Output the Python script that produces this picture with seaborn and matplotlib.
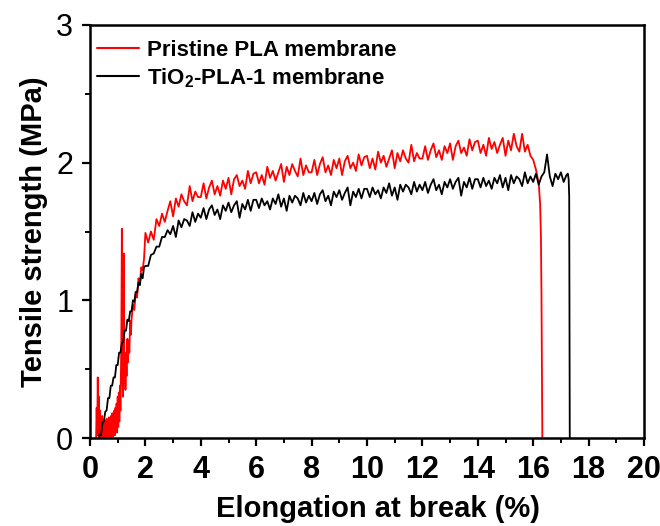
import numpy as np
import pandas as pd
import matplotlib
matplotlib.use("Agg")
import matplotlib.pyplot as plt
import seaborn as sns
from matplotlib.ticker import MultipleLocator

# ---------------- data ----------------
series_names = ["Pristine PLA membrane", "TiO$_\\mathbf{2}$-PLA-1 membrane"]
series_colors = ["#ff0000", "#000000"]

pla_strain = [0.22, 0.24, 0.26, 0.28, 0.30, 0.32, 0.34, 0.36, 0.38, 0.40, 0.42, 0.44, 0.46, 0.48,
              0.50, 0.52, 0.54, 0.56, 0.58, 0.60, 0.62, 0.64, 0.66, 0.68, 0.70, 0.72, 0.74, 0.76,
              0.78, 0.80, 0.82, 0.84, 0.86, 0.88, 0.90, 0.92, 0.94, 0.96, 0.98, 1.00, 1.02, 1.04,
              1.06, 1.08, 1.10, 1.12, 1.13, 1.15, 1.17, 1.19, 1.20, 1.22, 1.24, 1.26, 1.28, 1.30,
              1.32, 1.35, 1.37, 1.40, 1.42, 1.45, 1.47, 1.50, 1.55, 1.60, 1.65, 1.70, 1.75, 1.80,
              1.85, 1.90, 1.95,
              2.0, 2.1, 2.2, 2.3, 2.4, 2.5, 2.6, 2.7, 2.8, 2.9, 3.0, 3.1, 3.2, 3.3, 3.4, 3.5, 3.6,
              3.7, 3.8, 3.9, 4.0, 4.1, 4.2, 4.3, 4.4, 4.5, 4.6, 4.7, 4.8, 4.9, 5.0, 5.1, 5.2, 5.3,
              5.4, 5.5, 5.6, 5.7, 5.8, 5.9, 6.0, 6.1, 6.2, 6.3, 6.4, 6.5, 6.6, 6.7, 6.8, 6.9, 7.0,
              7.1, 7.2, 7.3, 7.4, 7.5, 7.6, 7.7, 7.8, 7.9, 8.0, 8.1, 8.2, 8.3, 8.4, 8.5, 8.6, 8.7,
              8.8, 8.9, 9.0, 9.1, 9.2, 9.3, 9.4, 9.5, 9.6, 9.7, 9.8, 9.9, 10.0, 10.1, 10.2, 10.3,
              10.4, 10.5, 10.6, 10.7, 10.8, 10.9, 11.0, 11.1, 11.2, 11.3, 11.4, 11.5, 11.6, 11.7,
              11.8, 11.9, 12.0, 12.1, 12.2, 12.3, 12.4, 12.5, 12.6, 12.7, 12.8, 12.9, 13.0, 13.1,
              13.2, 13.3, 13.4, 13.5, 13.6, 13.7, 13.8, 13.9, 14.0, 14.1, 14.2, 14.3, 14.4, 14.5,
              14.6, 14.7, 14.8, 14.9, 15.0, 15.1, 15.2, 15.3, 15.4, 15.5, 15.6, 15.7, 15.8, 15.9,
              16.0, 16.1, 16.2, 16.25, 16.28, 16.30, 16.32, 16.33]
pla_stress = [0.00, 0.22, 0.02, 0.44, 0.03, 0.30, 0.01, 0.20, 0.00, 0.12, 0.02, 0.16, 0.00, 0.10,
              0.01, 0.13, 0.00, 0.09, 0.02, 0.14, 0.00, 0.11, 0.03, 0.15, 0.01, 0.12, 0.00, 0.16,
              0.02, 0.18, 0.01, 0.15, 0.04, 0.20, 0.02, 0.22, 0.06, 0.25, 0.04, 0.30, 0.08, 0.33,
              0.12, 0.38, 0.20, 0.50, 0.70, 1.52, 0.45, 0.30, 0.60, 1.34, 0.40, 0.62, 0.35, 0.60,
              0.45, 0.72, 0.55, 0.70, 0.62, 0.85, 0.75, 0.86, 0.97, 0.93, 1.06, 1.02, 1.16, 1.12,
              1.24, 1.22, 1.30,
              1.49, 1.42, 1.50, 1.44, 1.59, 1.54, 1.63, 1.57, 1.65, 1.72, 1.61, 1.74, 1.68, 1.77,
              1.72, 1.69, 1.83, 1.72, 1.79, 1.75, 1.75, 1.85, 1.74, 1.82, 1.87, 1.77, 1.83, 1.76,
              1.87, 1.81, 1.89, 1.77, 1.88, 1.91, 1.83, 1.87, 1.81, 1.94, 1.85, 1.92, 1.93, 1.85,
              1.91, 1.84, 1.97, 1.89, 1.94, 1.87, 1.93, 1.99, 1.86, 1.97, 1.91, 1.99, 1.94, 1.90,
              2.03, 1.91, 1.98, 1.93, 1.93, 2.02, 1.91, 1.99, 2.04, 1.93, 1.98, 1.91, 2.02, 1.96,
              2.03, 1.91, 2.01, 2.05, 1.96, 2.00, 1.94, 2.06, 1.98, 2.04, 2.05, 1.96, 2.03, 1.95,
              2.08, 2.00, 2.05, 1.97, 2.03, 2.09, 1.96, 2.07, 2.01, 2.09, 2.03, 2.00, 2.13, 2.01,
              2.07, 2.03, 2.03, 2.12, 2.02, 2.09, 2.14, 2.04, 2.09, 2.02, 2.12, 2.07, 2.14, 2.02,
              2.12, 2.16, 2.07, 2.11, 2.05, 2.17, 2.09, 2.15, 2.16, 2.07, 2.13, 2.05, 2.18, 2.10,
              2.15, 2.07, 2.13, 2.18, 2.05, 2.16, 2.09, 2.21, 2.12, 2.08, 2.21, 2.08, 2.13, 2.05,
              2.02, 1.95, 1.85, 1.70, 1.45, 1.00, 0.40, 0.00]

tio2_strain = [0.33, 0.35, 0.40, 0.45, 0.50, 0.55, 0.60, 0.65, 0.70, 0.75, 0.80, 0.85, 0.90, 0.95,
               1.00, 1.05, 1.10, 1.15, 1.20, 1.25, 1.30, 1.35, 1.40, 1.45, 1.50, 1.55, 1.60, 1.65,
               1.70, 1.75, 1.80, 1.85, 1.90, 1.95,
               2.0, 2.1, 2.2, 2.3, 2.4, 2.5, 2.6, 2.7, 2.8, 2.9, 3.0, 3.1, 3.2, 3.3, 3.4, 3.5, 3.6,
               3.7, 3.8, 3.9, 4.0, 4.1, 4.2, 4.3, 4.4, 4.5, 4.6, 4.7, 4.8, 4.9, 5.0, 5.1, 5.2, 5.3,
               5.4, 5.5, 5.6, 5.7, 5.8, 5.9, 6.0, 6.1, 6.2, 6.3, 6.4, 6.5, 6.6, 6.7, 6.8, 6.9, 7.0,
               7.1, 7.2, 7.3, 7.4, 7.5, 7.6, 7.7, 7.8, 7.9, 8.0, 8.1, 8.2, 8.3, 8.4, 8.5, 8.6, 8.7,
               8.8, 8.9, 9.0, 9.1, 9.2, 9.3, 9.4, 9.5, 9.6, 9.7, 9.8, 9.9, 10.0, 10.1, 10.2, 10.3,
               10.4, 10.5, 10.6, 10.7, 10.8, 10.9, 11.0, 11.1, 11.2, 11.3, 11.4, 11.5, 11.6, 11.7,
               11.8, 11.9, 12.0, 12.1, 12.2, 12.3, 12.4, 12.5, 12.6, 12.7, 12.8, 12.9, 13.0, 13.1,
               13.2, 13.3, 13.4, 13.5, 13.6, 13.7, 13.8, 13.9, 14.0, 14.1, 14.2, 14.3, 14.4, 14.5,
               14.6, 14.7, 14.8, 14.9, 15.0, 15.1, 15.2, 15.3, 15.4, 15.5, 15.6, 15.7, 15.8, 15.9,
               16.0, 16.1, 16.2, 16.3, 16.4, 16.5, 16.6, 16.7, 16.8, 16.9, 17.0, 17.1, 17.2, 17.25,
               17.28, 17.30, 17.31, 17.32]
tio2_stress = [0.00, 0.03, 0.02, 0.11, 0.12, 0.19, 0.20, 0.29, 0.29, 0.38, 0.38, 0.44, 0.44, 0.53,
               0.53, 0.62, 0.62, 0.69, 0.70, 0.78, 0.78, 0.86, 0.85, 0.92, 0.92, 1.00, 0.99, 1.06,
               1.06, 1.13, 1.11, 1.19, 1.16, 1.24,
               1.25, 1.25, 1.33, 1.34, 1.39, 1.39, 1.46, 1.46, 1.51, 1.48, 1.54, 1.46, 1.58, 1.53,
               1.59, 1.58, 1.54, 1.64, 1.57, 1.63, 1.60, 1.67, 1.59, 1.66, 1.69, 1.62, 1.66, 1.59,
               1.69, 1.65, 1.71, 1.64, 1.69, 1.72, 1.60, 1.70, 1.66, 1.73, 1.65, 1.73, 1.73, 1.67,
               1.74, 1.69, 1.72, 1.66, 1.74, 1.70, 1.77, 1.68, 1.74, 1.65, 1.76, 1.71, 1.76, 1.74,
               1.69, 1.78, 1.71, 1.76, 1.72, 1.78, 1.70, 1.77, 1.80, 1.72, 1.76, 1.69, 1.79, 1.75,
               1.80, 1.73, 1.78, 1.82, 1.69, 1.79, 1.75, 1.81, 1.74, 1.81, 1.81, 1.75, 1.82, 1.77,
               1.80, 1.74, 1.82, 1.78, 1.85, 1.76, 1.82, 1.73, 1.84, 1.79, 1.84, 1.82, 1.77, 1.86,
               1.79, 1.84, 1.80, 1.86, 1.78, 1.84, 1.88, 1.80, 1.84, 1.77, 1.86, 1.82, 1.88, 1.81,
               1.86, 1.89, 1.76, 1.86, 1.82, 1.89, 1.81, 1.88, 1.88, 1.82, 1.89, 1.83, 1.87, 1.81,
               1.89, 1.85, 1.91, 1.82, 1.89, 1.80, 1.91, 1.85, 1.90, 1.88, 1.83, 1.93, 1.85, 1.90,
               1.86, 1.92, 1.84, 1.90, 1.93, 2.06, 1.90, 1.83, 1.92, 1.88, 1.93, 1.86, 1.91, 1.92,
               1.88, 1.75, 1.00, 0.00]

x_label = "Elongation at break (%)"
y_label = "Tensile strength (MPa)"
x_ticks = [0, 2, 4, 6, 8, 10, 12, 14, 16, 18, 20]
y_ticks = [0, 1, 2, 3]

# ---------------- build table ----------------
df = pd.concat([
    pd.DataFrame({"strain": pla_strain, "stress": pla_stress, "sample": series_names[0]}),
    pd.DataFrame({"strain": tio2_strain, "stress": tio2_stress, "sample": series_names[1]}),
], ignore_index=True)

sns.set_theme(style="ticks")
plt.rcParams["font.family"] = ["Liberation Sans", "DejaVu Sans"]
plt.rcParams["mathtext.fontset"] = "custom"
plt.rcParams["mathtext.rm"] = "Liberation Sans:bold"
plt.rcParams["mathtext.bf"] = "Liberation Sans:bold"
for key in ["text.color", "axes.labelcolor", "xtick.color", "ytick.color"]:
    plt.rcParams[key] = "black"

fig = plt.figure(figsize=(6.6, 5.26), dpi=100)
ax = fig.add_axes([90 / 660, 88 / 526, 554 / 660, 413 / 526])

sns.lineplot(data=df, x="strain", y="stress", hue="sample",
             palette=dict(zip(series_names, series_colors)),
             estimator=None, sort=False, linewidth=1.3, ax=ax)

ax.set_xlim(0, 20)
ax.set_ylim(0, 3)
ax.set_xticks(x_ticks)
ax.set_yticks(y_ticks)
ax.xaxis.set_minor_locator(MultipleLocator(1))
ax.yaxis.set_minor_locator(MultipleLocator(0.5))
ax.set_xticklabels([str(t) for t in x_ticks], fontsize=22, fontweight="bold")
ax.set_yticklabels([str(t) for t in y_ticks], fontsize=22)

for s in ax.spines.values():
    s.set_visible(True)
    s.set_linewidth(1.8)
    s.set_color("black")
ax.tick_params(which="major", direction="out", length=6, width=1.6, pad=6, color="black",
               labelcolor="black")
ax.tick_params(which="minor", direction="out", length=3.5, width=1.4, color="black")
ax.tick_params(top=False, right=False, which="both")

ax.set_xlabel(x_label, fontsize=21, fontweight="bold", color="black")
ax.set_ylabel(y_label, fontsize=21, fontweight="bold", labelpad=6, color="black")
ax.xaxis.set_label_coords(0.52, -0.138)

leg = ax.legend(loc="upper left", bbox_to_anchor=(0.009, 0.969), frameon=False,
                prop={"weight": "bold", "size": 16}, handlelength=1.9,
                handletextpad=0.35, labelspacing=0.22, borderaxespad=0.0, borderpad=0.1)
for t in leg.get_texts():
    t.set_color("black")
for h in leg.get_lines():
    h.set_linewidth(1.5)

fig.savefig("out.png", dpi=100, facecolor="white")
